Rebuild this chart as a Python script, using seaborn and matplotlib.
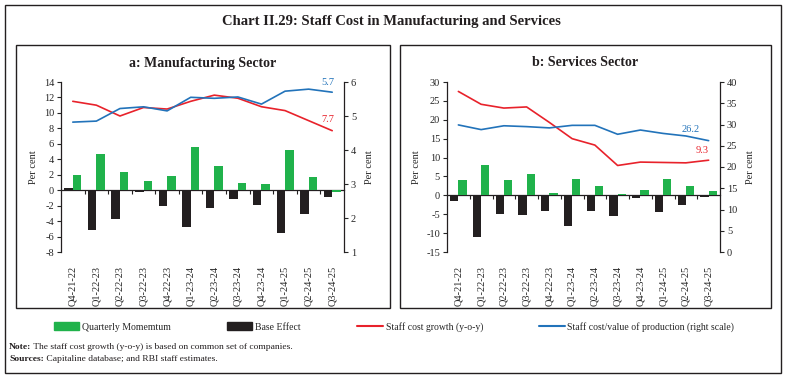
import numpy as np
import pandas as pd
import matplotlib
matplotlib.use("Agg")
import matplotlib.pyplot as plt
from matplotlib.patches import Rectangle, Patch
from matplotlib.lines import Line2D
import seaborn as sns

sns.set_style("white")
plt.rcParams["font.family"] = ["Liberation Serif", "DejaVu Serif"]
plt.rcParams["axes.unicode_minus"] = False

quarters = ["Q4-21-22", "Q1-22-23", "Q2-22-23", "Q3-22-23", "Q4-22-23", "Q1-23-24",
            "Q2-23-24", "Q3-23-24", "Q4-23-24", "Q1-24-25", "Q2-24-25", "Q3-24-25"]

# a: manufacturing
mfg_momentum = [2.0, 4.7, 2.4, 1.2, 1.8, 5.6, 3.1, 0.9, 0.8, 5.2, 1.7, -0.2]
mfg_base = [0.3, -5.2, -3.7, -0.2, -2.0, -4.7, -2.3, -1.2, -1.9, -5.6, -3.1, -0.9]
mfg_growth = [11.5, 11.0, 9.6, 10.7, 10.5, 11.5, 12.3, 11.9, 10.8, 10.3, 9.0, 7.7]
mfg_ratio = [4.82, 4.85, 5.22, 5.27, 5.15, 5.55, 5.52, 5.56, 5.35, 5.73, 5.79, 5.7]

# b: services
svc_momentum = [4.1, 8.0, 4.1, 5.6, 0.6, 4.3, 2.5, 0.35, 1.5, 4.2, 2.4, 1.1]
svc_base = [-1.5, -11.0, -4.9, -5.2, -4.1, -8.1, -4.1, -5.6, -0.6, -4.4, -2.6, -0.4]
svc_growth = [27.5, 24.1, 23.1, 23.4, 19.3, 15.0, 13.3, 7.9, 8.8, 8.7, 8.6, 9.3]
svc_ratio = [29.9, 28.8, 29.7, 29.5, 29.2, 29.8, 29.8, 27.7, 28.7, 27.9, 27.3, 26.2]

GREEN = "#20B24B"
BLACK = "#231F20"
RED = "#E8222B"
BLUE = "#2273BA"
FS = 7.5

fig = plt.figure(figsize=(7.85, 3.81), dpi=100)
W, H = 785, 381


def fx(px):
    return px / W


def fy(py):
    return 1 - py / H


def panel(rect, title, box, momentum, base, growth, ratio, ylim, yticks, y2lim, y2ticks,
          off_ratio, off_growth):
    ax = fig.add_axes(rect)
    df = pd.DataFrame({
        "quarter": quarters * 2,
        "component": ["Base Effect"] * len(quarters) + ["Quarterly Momentum"] * len(quarters),
        "value": base + momentum,
    })
    sns.barplot(data=df, x="quarter", y="value", hue="component",
                hue_order=["Base Effect", "Quarterly Momentum"],
                palette=[BLACK, GREEN], saturation=1, width=0.72, gap=0,
                linewidth=0, legend=False, ax=ax)
    pos = np.arange(len(quarters))
    sns.lineplot(x=pos, y=growth, color=RED, linewidth=1.2, ax=ax)
    ax.set_xlim(-0.5, len(quarters) - 0.5)
    ax.set_ylim(*ylim)
    ax.set_yticks(yticks)
    ax.set_xlabel("")
    ax.set_ylabel("Per cent", fontsize=FS, labelpad=4)
    ax.tick_params(axis="y", direction="out", length=3, labelsize=FS, pad=2, left=True)
    ax.tick_params(axis="x", length=0, labelsize=FS, pad=10)
    ax.set_xticks(pos)
    ax.set_xticklabels(quarters, rotation=90)
    for s in ["top", "bottom", "right"]:
        ax.spines[s].set_visible(False)
    ax.spines["left"].set_color(BLACK)
    ax.spines["left"].set_linewidth(0.9)

    zero = (0 - ylim[0]) / (ylim[1] - ylim[0])
    sec = ax.secondary_xaxis(zero)
    sec.set_xticks(pos[:-1] + 0.5)
    sec.set_xticklabels([])
    sec.tick_params(direction="out", length=3, width=0.8, color=BLACK)
    sec.spines["bottom"].set_color(BLACK)
    sec.spines["bottom"].set_linewidth(0.9)

    tw = ax.twinx()
    sns.lineplot(x=pos, y=ratio, color=BLUE, linewidth=1.2, ax=tw)
    tw.set_xlim(-0.5, len(quarters) - 0.5)
    tw.set_ylim(*y2lim)
    tw.set_yticks(y2ticks)
    tw.set_ylabel("Per cent", fontsize=FS, rotation=90, labelpad=6)
    tw.tick_params(axis="y", direction="out", length=3, labelsize=FS, pad=2, right=True)
    for s in ["top", "bottom", "left"]:
        tw.spines[s].set_visible(False)
    tw.spines["right"].set_color(BLACK)
    tw.spines["right"].set_linewidth(0.9)

    tw.annotate(f"{ratio[-1]:.1f}", (pos[-1], ratio[-1]), xytext=off_ratio,
                textcoords="offset points", color=BLUE, fontsize=FS, ha="center")
    ax.annotate(f"{growth[-1]:.1f}", (pos[-1], growth[-1]), xytext=off_growth,
                textcoords="offset points", color=RED, fontsize=FS, ha="center")

    x0, y0, x1, y1 = box
    fig.patches.append(Rectangle((fx(x0), fy(y1)), fx(x1) - fx(x0), fy(y0) - fy(y1),
                                 transform=fig.transFigure, fill=False,
                                 edgecolor=BLACK, linewidth=1))
    fig.text(fx((x0 + x1) / 2), fy(63), title, ha="center", va="center",
             fontsize=10, fontweight="bold", color=BLACK)
    return ax


panel([fx(61), fy(252), fx(344) - fx(61), fy(82) - fy(252)], "a: Manufacturing Sector",
      (16, 45, 390, 308), mfg_momentum, mfg_base, mfg_growth, mfg_ratio,
      (-8, 14), np.arange(-8, 15, 2), (1, 6), np.arange(1, 7, 1), (-3, 5), (-3, 6))
panel([fx(447), fy(252), fx(720) - fx(447), fy(82) - fy(252)], "b: Services Sector",
      (400, 45, 771, 308), svc_momentum, svc_base, svc_growth, svc_ratio,
      (-15, 30), np.arange(-15, 31, 5), (0, 40), np.arange(0, 41, 5), (-13, 6), (-5, 5))

# outer frame and title
fig.patches.append(Rectangle((fx(5), fy(373)), fx(781) - fx(5), fy(5) - fy(373),
                             transform=fig.transFigure, fill=False,
                             edgecolor=BLACK, linewidth=1))
fig.text(fx(391), fy(22), "Chart II.29: Staff Cost in Manufacturing and Services",
         ha="center", va="center", fontsize=10.5, fontweight="bold", color=BLACK)

handles = [
    Patch(facecolor=GREEN, edgecolor=GREEN, label="Quarterly Momemtum"),
    Patch(facecolor=BLACK, edgecolor=BLACK, label="Base Effect"),
    Line2D([], [], color=RED, linewidth=1.5, label="Staff cost growth (y-o-y)"),
    Line2D([], [], color=BLUE, linewidth=1.5, label="Staff cost/value of production (right scale)"),
]
fig.legend(handles=handles, loc="center", bbox_to_anchor=(fx(394), fy(327)), ncol=4,
           frameon=False, fontsize=7, handlelength=2.6, handleheight=0.9,
           columnspacing=5.8, handletextpad=0.3)

renderer = fig.canvas.get_renderer()
for py, head, rest in [(347, "Note:", " The staff cost growth (y-o-y) is based on common set of companies."),
                       (359, "Sources:", " Capitaline database; and RBI staff estimates.")]:
    t = fig.text(fx(9), fy(py), head, fontsize=6.8, fontweight="bold", va="center", color=BLACK)
    bb = t.get_window_extent(renderer=renderer)
    fig.text(bb.x1 / W, fy(py), rest, fontsize=6.8, va="center", color=BLACK)

fig.savefig("out.png", dpi=100)
